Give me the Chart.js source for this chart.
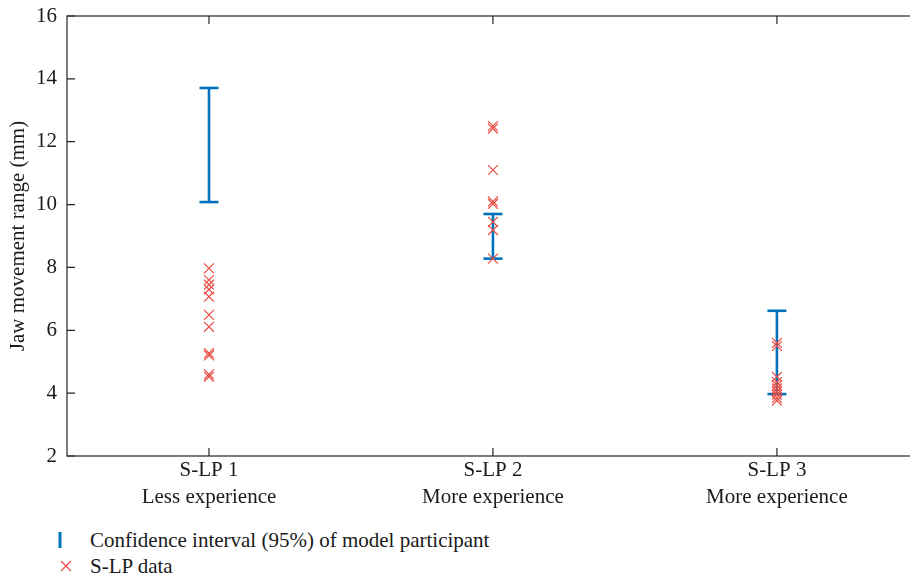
<!DOCTYPE html>
<html>
<head>
<meta charset="utf-8">
<title>Jaw movement range</title>
<script src="https://cdn.jsdelivr.net/npm/chart.js@4/dist/chart.umd.min.js"></script>
<style>
  html, body { margin: 0; padding: 0; background: #fff; overflow: hidden; }
  #wrap { position: relative; width: 910px; height: 580px; overflow: hidden; }
  #chart { position: absolute; left: 0; top: 0; }
  .legend-row {
    position: absolute; left: 52px; height: 24px; line-height: 24px;
    font-family: "Liberation Serif", "DejaVu Serif", serif; font-size: 21px; color: #1a1a1a;
    white-space: nowrap;
  }
  .legend-row svg { position: absolute; left: 0; top: 4px; }
  .legend-row span { position: absolute; left: 38px; top: 0; }
</style>
</head>
<body>
<div id="wrap">
  <canvas id="chart" width="931" height="510"></canvas>
  <div class="legend-row" style="top:528px;">
    <svg width="20" height="16"><line x1="8" y1="0" x2="8" y2="16" stroke="#0072BD" stroke-width="3"/></svg>
    <span>Confidence interval (95%) of model participant</span>
  </div>
  <div class="legend-row" style="top:554px;">
    <svg width="20" height="16"><path d="M9 3 L19 13 M19 3 L9 13" stroke="rgb(236,77,68)" stroke-width="1.3" fill="none"/></svg>
    <span>S-LP data</span>
  </div>
</div>
<script>
// categories (two-line tick labels)
const categories = [
  ['S-LP 1', 'Less experience'],
  ['S-LP 2', 'More experience'],
  ['S-LP 3', 'More experience']
];

// 95% confidence interval of model participant
const ciLow = [10.08, 8.28, 3.97];
const ciHigh = [13.71, 9.70, 6.62];

// S-LP measured jaw movement range (mm)
const slp1Data = [7.97, 7.6, 7.45, 7.3, 7.07, 6.49, 6.11, 5.27, 5.2, 4.6, 4.52];
const slp2Data = [12.5, 12.42, 11.1, 10.1, 10.02, 9.45, 9.19, 8.28];
const slp3Data = [5.6, 5.5, 4.52, 4.35, 4.25, 4.15, 4.05, 3.95, 3.85, 3.76];

const yTicks = [2, 4, 6, 8, 10, 12, 14, 16];

const FONT = '"Liberation Serif", "DejaVu Serif", serif';
const BLUE = '#0072BD';
const RED = 'rgb(236,77,68)';
const AXIS = '#262626';

const slpPoints = [slp1Data, slp2Data, slp3Data]
  .map((vals, i) => vals.map(v => ({ x: i + 1, y: v })))
  .flat();

const ciSets = ciLow.map((lo, i) => ({
  label: 'CI ' + (i + 1),
  data: [{ x: i + 1, y: lo }, { x: i + 1, y: ciHigh[i] }],
  showLine: true,
  borderColor: BLUE,
  borderWidth: 2.6,
  pointStyle: 'line',
  pointRadius: 9.5,
  pointBorderWidth: 2.6,
  pointBorderColor: BLUE,
  pointBackgroundColor: BLUE
}));

// box around plot area + inward ticks on all sides
const boxTicks = {
  id: 'boxTicks',
  beforeDatasetsDraw(chart) {
    const { ctx, chartArea: a, scales: { x, y } } = chart;
    const len = 8;
    ctx.save();
    ctx.strokeStyle = AXIS;
    ctx.lineWidth = 1.2;
    ctx.strokeRect(a.left, a.top, a.right - a.left, a.bottom - a.top);
    ctx.beginPath();
    y.ticks.forEach(t => {
      const py = y.getPixelForValue(t.value);
      ctx.moveTo(a.left, py); ctx.lineTo(a.left + len, py);
      ctx.moveTo(a.right, py); ctx.lineTo(a.right - len, py);
    });
    x.ticks.forEach(t => {
      const px = x.getPixelForValue(t.value);
      ctx.moveTo(px, a.bottom); ctx.lineTo(px, a.bottom - len);
      ctx.moveTo(px, a.top); ctx.lineTo(px, a.top + len);
    });
    ctx.stroke();
    ctx.restore();
  }
};

new Chart(document.getElementById('chart'), {
  type: 'scatter',
  data: {
    datasets: [
      {
        label: 'S-LP data',
        data: slpPoints,
        pointStyle: 'crossRot',
        pointRadius: 7,
        pointBorderWidth: 1.2,
        pointBorderColor: RED,
        pointBackgroundColor: RED
      },
      ...ciSets
    ]
  },
  options: {
    responsive: false,
    animation: false,
    layout: { padding: { top: 16, right: 2, left: 0, bottom: 0 } },
    plugins: {
      legend: { display: false },
      tooltip: { enabled: false }
    },
    scales: {
      x: {
        type: 'linear',
        min: 0.5,
        max: 3.5,
        grid: { display: false, drawTicks: false },
        border: { display: false },
        afterBuildTicks: s => { s.ticks = categories.map((c, i) => ({ value: i + 1 })); },
        afterFit: s => { s.height = 54; s.paddingLeft = 0; s.paddingRight = 0; },
        ticks: {
          padding: 1,
          color: '#1a1a1a',
          font: { family: FONT, size: 21, lineHeight: 1.3 },
          callback: v => categories[v - 1]
        }
      },
      y: {
        min: 2,
        max: 16,
        grid: { display: false, drawTicks: false },
        border: { display: false },
        afterBuildTicks: s => { s.ticks = yTicks.map(v => ({ value: v })); },
        afterFit: s => { s.width = 67; s.paddingTop = 0; s.paddingBottom = 0; },
        ticks: {
          padding: 10,
          color: '#1a1a1a',
          font: { family: FONT, size: 21 }
        },
        title: {
          display: true,
          text: 'Jaw movement range (mm)',
          color: '#1a1a1a',
          font: { family: FONT, size: 21 },
          padding: { top: 6, bottom: 0 }
        }
      }
    }
  },
  plugins: [boxTicks]
});
</script>
</body>
</html>
